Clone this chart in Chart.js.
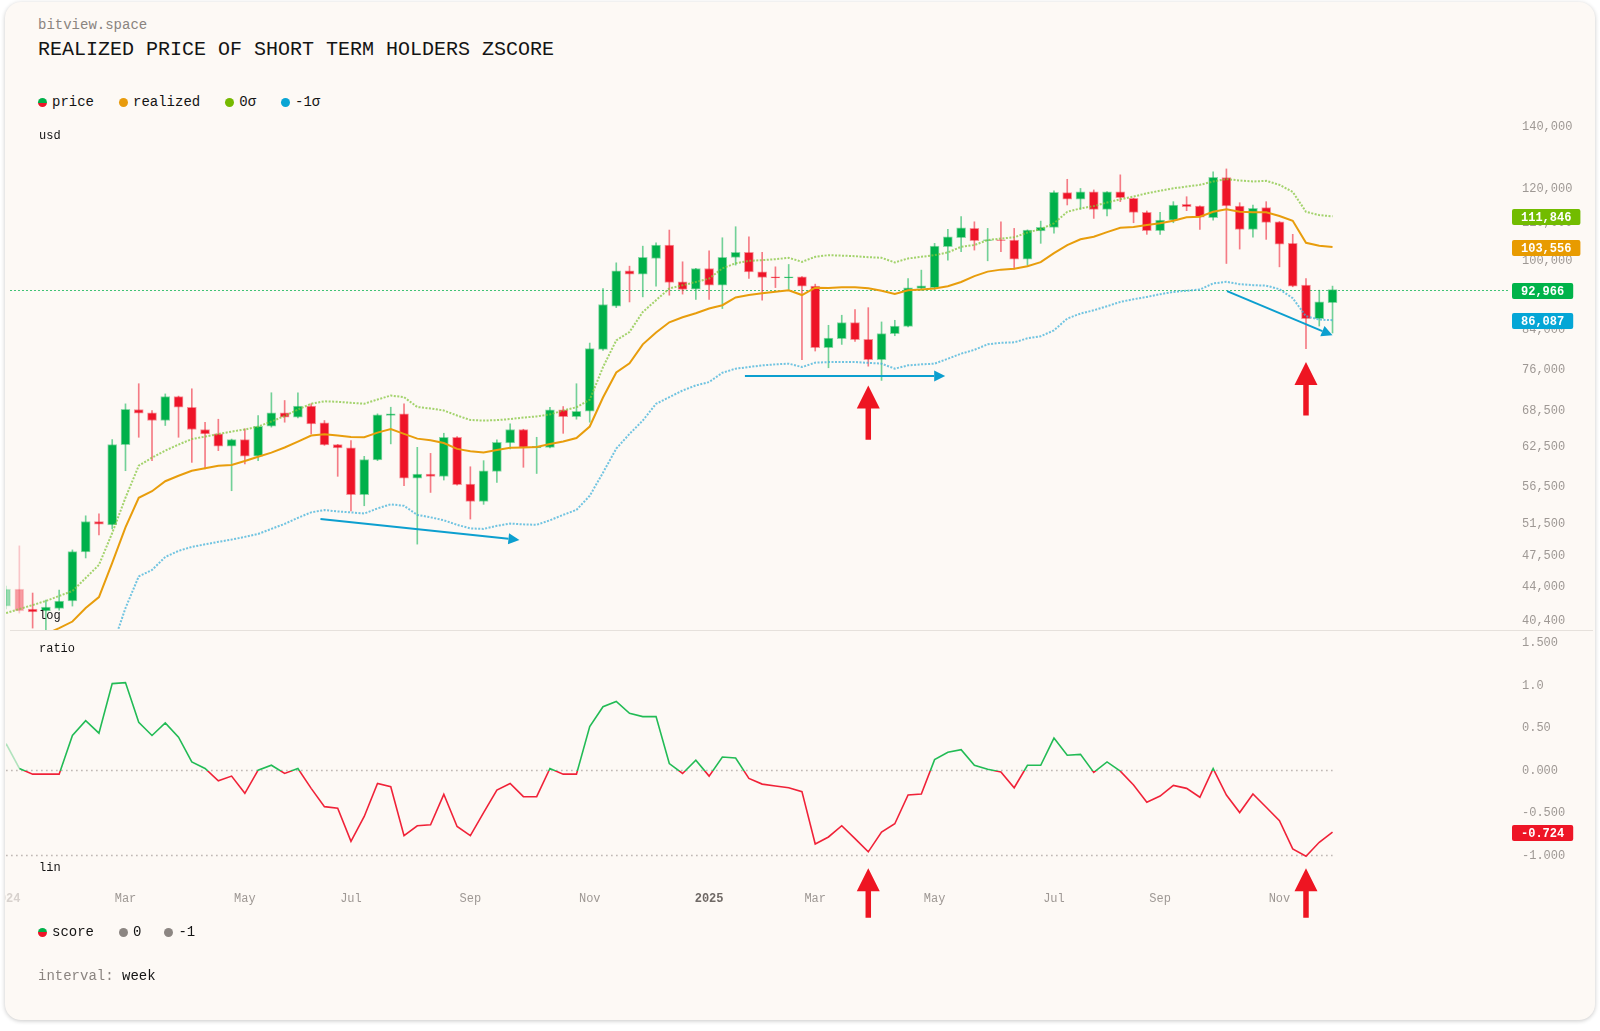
<!DOCTYPE html>
<html>
<head>
<meta charset="utf-8">
<script src="https://cdn.jsdelivr.net/npm/chart.js@4.4.1/dist/chart.umd.min.js"></script>
<style>
  html, body { margin: 0; padding: 0; width: 1600px; height: 1031px; background: #ffffff; overflow: hidden;
    font-family: "Liberation Mono", "DejaVu Sans Mono", monospace; }
  #card { position: absolute; left: 5px; top: 2px; width: 1590px; height: 1018px; background: #fdf9f5;
    border-radius: 16px; box-shadow: 0 1px 4px rgba(0,0,0,0.22); overflow: hidden; }
  .t { position: absolute; white-space: nowrap; color: #141414; }
  canvas { position: absolute; }
  .legend { position: absolute; display: flex; align-items: center; font-size: 14px; line-height: 16px; color: #141414; }
  .legend .item { display: flex; align-items: center; margin-right: 25px; }
  .legend .dot { width: 9px; height: 9px; border-radius: 50%; margin-right: 5px; }
  .split { background: linear-gradient(#00b04a 50%, #ee1428 50%); }
</style>
</head>
<body>
<div id="card">
  <div class="t" style="left:33px; top:15px; font-size:14px; line-height:16px; color:#8a8480;">bitview.space</div>
  <div class="t" style="left:33px; top:36px; font-size:20px; line-height:24px;">REALIZED PRICE OF SHORT TERM HOLDERS ZSCORE</div>

  <div class="legend" style="left:33px; top:92px;">
    <div class="item"><span class="dot split"></span>price</div>
    <div class="item"><span class="dot" style="background:#e89b0c"></span>realized</div>
    <div class="item"><span class="dot" style="background:#76b900"></span>0σ</div>
    <div class="item"><span class="dot" style="background:#0aa5d4"></span>-1σ</div>
  </div>

  <canvas id="priceChart" width="1590" height="513" style="left:0; top:116px;"></canvas>
  <div style="position:absolute; left:5px; top:628px; width:1583px; height:1px; background:#e6e1dc;"></div>
  <canvas id="ratioChart" width="1590" height="300" style="left:0; top:629px;"></canvas>

  <div class="t" style="left:34px; top:127px; font-size:12px; line-height:14px;">usd</div>
  <div class="t" style="left:34px; top:607px; font-size:12px; line-height:14px;">log</div>
  <div class="t" style="left:34px; top:640px; font-size:12px; line-height:14px;">ratio</div>
  <div class="t" style="left:34px; top:859px; font-size:12px; line-height:14px;">lin</div>

  <div class="legend" style="left:33px; top:922px;">
    <div class="item"><span class="dot split"></span>score</div>
    <div class="item" style="margin-right:23px;"><span class="dot" style="background:#8c8682"></span>0</div>
    <div class="item"><span class="dot" style="background:#8c8682"></span>-1</div>
  </div>
  <div class="t" style="left:33px; top:966px; font-size:14px; line-height:16px; color:#8a8480;">interval: <span style="color:#141414">week</span></div>
</div>

<script>
// weekly candles, week 0 = first week of Jan 2024
const priceOpen = [41880,43720,41570,41360,41640,42420,48010,51830,51400,62920,
  68730,68170,66850,71010,69120,65360,64640,62650,63720,61090,
  65900,68170,67410,69310,66460,62920,62400,55450,60540,67710,
  67990,57830,58420,58070,64090,56970,54520,58810,63200,65360,
  62400,62490,68680,67520,68440,79980,89180,97500,96690,100590,
  104040,94820,93080,98080,94050,100840,102130,97250,96050,95740,
  96050,93810,80330,82160,85580,82030,77940,83230,84760,93270,
  93420,103610,106000,108500,105230,105440,105360,100410,107780,108770,
  118730,116770,119000,113850,119000,117050,112990,107860,110800,115300,
  114810,111490,123330,114810,108240,114320,110340,104470,94050,86440,
  90000];
const priceHigh = [44050,48740,43280,42530,43610,48250,52580,52850,63720,69720,
  73350,68560,71490,71100,72420,66560,67070,63800,65460,67700,
  71700,70310,71700,69740,66850,62950,63560,61080,67990,69130,
  69740,62490,61540,64740,64200,59500,60420,63680,66290,65400,
  64090,69130,69250,73350,81270,93250,99480,98650,103750,104650,
  108050,99740,98100,102560,105970,108960,106240,102130,98480,99070,
  96100,94280,84990,87170,88440,88850,85710,86070,95630,97670,
  104480,108250,111780,110320,108500,110320,108500,108100,110510,119250,
  122800,120000,119550,119050,124180,117100,113370,112990,116060,117520,
  114850,125150,126050,115750,115100,116060,110400,106890,95630,92850,
  93810];
const priceLow = [41570,41150,39620,38600,41460,41880,47280,50110,50880,58910,
  64090,60420,66020,64090,60160,59170,61970,56010,59910,60420,
  65750,66570,67310,64640,62800,58080,53240,53930,60420,63030,
  56730,48960,55770,57540,56800,52150,54120,57200,62240,59420,
  58500,62400,64730,67080,66570,79780,88860,90140,91300,93800,
  91690,91940,90690,90690,88650,98910,95630,90530,93460,93020,
  77950,79650,76360,80990,81580,76670,73960,82780,84620,92850,
  92850,100160,102300,102730,99990,102300,97910,98870,104490,107180,
  115100,113850,111270,111940,116080,110060,106890,106890,110060,113450,
  108240,110800,99320,102990,106150,105540,98480,93650,80130,84830,
  83350];
const priceClose = [43720,41360,41260,41780,42420,48050,51830,51490,62920,68780,
  68100,66850,71010,69120,65360,64640,62650,63720,61090,65900,
  68170,67410,69310,66290,62870,62400,55450,60580,67810,67990,
  57830,58420,58070,64090,56870,54520,58910,63290,65360,62490,
  62650,68680,67520,68440,80120,89570,97500,96690,100840,104040,
  94680,93020,98080,94050,100840,102130,97250,95900,95740,96050,
  93810,80330,82300,85580,81970,77940,83230,84830,93420,93880,
  103780,106240,108660,105180,105440,105230,100410,108050,108770,118850,
  116770,119000,113850,119000,117250,112990,107860,110800,115100,114620,
  111580,123420,114810,108240,114140,110170,104300,93810,86440,90140,
  92966];
const realizedPrice = [36900,37570,38340,39020,39620,40280,41670,42840,46690,51080,
  55030,55940,57370,58170,58910,59270,59660,59770,60360,61010,
  61660,62460,63400,64360,64570,64360,64130,64090,64850,65420,
  64640,63870,63610,63170,62240,61880,61660,62050,62400,62450,
  62530,63000,63400,63960,65850,70850,75470,77230,81010,83480,
  85640,86720,87610,88650,89400,91170,91720,92120,92500,92850,
  91720,93450,93390,93540,93540,93300,92730,91960,92850,93010,
  93250,93800,94790,96200,97300,97790,98030,98640,99650,101950,
  104040,105550,106230,107500,108680,108870,109420,109900,110620,111580,
  111760,113160,113850,113160,113000,113000,111950,110620,104640,103850,
  103556];
const sigma0 = [41150,41570,41990,42420,42960,43500,44950,46460,50360,55030,
  59660,60880,61970,62920,63800,64200,64610,65020,65350,65850,
  66680,67620,68730,69740,70170,70080,69900,69740,70490,71200,
  70900,69170,68910,68560,67710,66940,66850,66920,67100,67360,
  67540,67880,68560,69130,70440,76480,81830,83560,87890,90530,
  93250,94000,94790,95600,98100,99380,99970,100160,100410,100740,
  99730,101000,101430,101300,101170,100920,100740,99580,100590,101000,
  101430,102130,103580,104040,105360,105760,106080,107370,108320,109900,
  113140,114110,114770,115800,116750,117570,118530,119310,120040,120560,
  121090,122110,122850,122420,122110,122320,121090,118950,113140,112190,
  111846];
const sigmaMinus1 = [null,null,null,null,null,null,null,34650,37760,41670,
  45130,45870,47400,48130,48620,48930,49240,49520,49860,50230,
  50870,51520,52310,53040,53350,53160,53040,52880,53570,54130,
  53920,52700,52380,51990,51400,50940,50870,51270,51560,51460,
  51400,51990,52710,53370,55300,58620,62280,64640,66850,69730,
  70900,72110,73040,73650,75410,76190,76500,76830,77020,77160,
  76500,77350,77470,77470,77470,77310,77160,76190,76830,77020,
  77160,78120,79120,79890,81010,81320,81420,82240,82660,83920,
  86440,87540,88270,89170,90150,90760,91290,91920,92450,92730,
  93010,94440,94830,94280,94040,93920,93080,91000,86950,86220,
  86087];
const zScore = [0.316,0.025,-0.042,-0.042,-0.042,0.413,0.588,0.44,1.023,1.035,
  0.568,0.413,0.561,0.393,0.102,0.025,-0.12,-0.065,-0.267,0.005,
  0.063,-0.034,0.025,-0.209,-0.424,-0.442,-0.832,-0.54,-0.151,-0.19,
  -0.765,-0.649,-0.637,-0.279,-0.657,-0.765,-0.494,-0.229,-0.151,-0.307,
  -0.307,0.025,-0.042,-0.042,0.518,0.751,0.813,0.673,0.635,0.635,
  0.083,-0.034,0.121,-0.065,0.16,0.148,-0.092,-0.159,-0.182,-0.202,
  -0.248,-0.863,-0.781,-0.649,-0.8,-0.956,-0.723,-0.625,-0.287,-0.275,
  0.129,0.215,0.246,0.063,0.016,-0.015,-0.202,0.063,0.063,0.382,
  0.18,0.191,-0.022,0.102,-0.007,-0.17,-0.372,-0.299,-0.174,-0.209,
  -0.314,0.024,-0.287,-0.494,-0.275,-0.431,-0.59,-0.921,-1.007,-0.843,
  -0.724];
const zeroLevel = 0;
const minusOneLevel = -1;

const monthTickWeeks = [0, 9, 18, 26, 35, 44, 53, 61, 70, 79, 87, 96];
const monthTickLabels = ['2024', 'Mar', 'May', 'Jul', 'Sep', 'Nov', '2025', 'Mar', 'May', 'Jul', 'Sep', 'Nov'];
const priceTicks = [140000, 120000, 110000, 100000, 84000, 76000, 68500, 62500, 56500, 51500, 47500, 44000, 40400];
const ratioTicks = [1.5, 1, 0.5, 0, -0.5, -1];
const ratioTickLabels = ['1.500', '1.0', '0.50', '0.000', '-0.500', '-1.000'];

// annotations, in data space (week index, value)
const blueArrows = [
  { fromWeek: 23.7, fromValue: 52150, toWeek: 38.7, toValue: 49480 },
  { fromWeek: 55.7, fromValue: 74770, toWeek: 70.8, toValue: 74770 },
  { fromWeek: 92.05, fromValue: 92620, toWeek: 100, toValue: 82870 }
];
const redArrowsPrice = [
  { week: 65, tip: 73040, tail: 63700 },
  { week: 98, tip: 77460, tail: 67700 }
];
const redArrowsRatio = [
  { week: 65, tip: -1.149, tail: -1.731 },
  { week: 98, tip: -1.149, tail: -1.731 }
];

const FONT = '"Liberation Mono", "DejaVu Sans Mono", monospace';
const X_MIN = -0.0075, X_MAX = 113.38;
const AXIS_W = 85;
const GREEN = [0, 176, 74], RED = [238, 20, 40];
const Z_GREEN = '#22bb55', Z_RED = '#f02238';
const rgba = (c, a) => `rgba(${c[0]},${c[1]},${c[2]},${a})`;

function candleColor(i, alpha) {
  if (i === undefined) return rgba(GREEN, alpha);
  const c = priceClose[i] >= priceOpen[i] ? GREEN : RED;
  return rgba(c, i < 2 ? alpha * 0.4 : alpha);
}

function valueTag(chart, value, text, color) {
  const { ctx, chartArea: a, scales: { y } } = chart;
  const py = Math.round(y.getPixelForValue(value)) + 1;
  ctx.save();
  ctx.font = 'bold 12px ' + FONT;
  const w = ctx.measureText(text).width + 18;
  ctx.fillStyle = color;
  ctx.beginPath();
  ctx.roundRect(a.right + 2, py - 8, w, 16, 2);
  ctx.fill();
  ctx.fillStyle = '#ffffff';
  ctx.textAlign = 'left';
  ctx.textBaseline = 'middle';
  ctx.fillText(text, a.right + 11, py + 1);
  ctx.restore();
}

function blockArrow(ctx, x, yTip, yTail) {
  const headH = 23, headW = 23, shaftW = 5.5;
  ctx.save();
  ctx.fillStyle = '#ee1522';
  ctx.beginPath();
  ctx.moveTo(x, yTip);
  ctx.lineTo(x + headW / 2, yTip + headH);
  ctx.lineTo(x + shaftW / 2, yTip + headH);
  ctx.lineTo(x + shaftW / 2, yTail);
  ctx.lineTo(x - shaftW / 2, yTail);
  ctx.lineTo(x - shaftW / 2, yTip + headH);
  ctx.lineTo(x - headW / 2, yTip + headH);
  ctx.closePath();
  ctx.fill();
  ctx.restore();
}

function lineArrow(ctx, x1, y1, x2, y2) {
  const ang = Math.atan2(y2 - y1, x2 - x1);
  const head = 11, half = 5.5;
  const bx = x2 - head * Math.cos(ang), by = y2 - head * Math.sin(ang);
  ctx.save();
  ctx.strokeStyle = '#0c9fcf';
  ctx.fillStyle = '#0c9fcf';
  ctx.lineWidth = 2;
  ctx.beginPath();
  ctx.moveTo(x1, y1);
  ctx.lineTo(bx, by);
  ctx.stroke();
  ctx.beginPath();
  ctx.moveTo(x2, y2);
  ctx.lineTo(bx - half * Math.sin(ang), by + half * Math.cos(ang));
  ctx.lineTo(bx + half * Math.sin(ang), by - half * Math.cos(ang));
  ctx.closePath();
  ctx.fill();
  ctx.restore();
}

const priceOverlay = {
  id: 'priceOverlay',
  beforeDatasetsDraw(chart) {
    const { ctx, chartArea: a, scales: { y } } = chart;
    const py = Math.round(y.getPixelForValue(priceClose[priceClose.length - 1])) + 0.5;
    ctx.save();
    ctx.strokeStyle = 'rgba(0,176,74,0.75)';
    ctx.lineWidth = 1;
    ctx.setLineDash([2, 2]);
    ctx.beginPath();
    ctx.moveTo(a.left + 4, py);
    ctx.lineTo(a.right, py);
    ctx.stroke();
    ctx.restore();
  },
  afterDraw(chart) {
    const { ctx, scales: { x, y } } = chart;
    blueArrows.forEach(b => lineArrow(ctx, x.getPixelForValue(b.fromWeek), y.getPixelForValue(b.fromValue),
      x.getPixelForValue(b.toWeek), y.getPixelForValue(b.toValue)));
    redArrowsPrice.forEach(r => blockArrow(ctx, x.getPixelForValue(r.week), y.getPixelForValue(r.tip), y.getPixelForValue(r.tail)));
    const fmt = v => v.toLocaleString('en-US');
    const last = priceClose.length - 1;
    valueTag(chart, sigma0[last], fmt(sigma0[last]), '#72bc00');
    valueTag(chart, realizedPrice[last], fmt(realizedPrice[last]), '#e89b00');
    valueTag(chart, priceClose[last], fmt(priceClose[last]), '#00b34a');
    valueTag(chart, sigmaMinus1[last], fmt(sigmaMinus1[last]), '#05a6d6');
  }
};

const ratioOverlay = {
  id: 'ratioOverlay',
  afterDraw(chart) {
    const { ctx, scales: { x, y } } = chart;
    redArrowsRatio.forEach(r => blockArrow(ctx, x.getPixelForValue(r.week), y.getPixelForValue(r.tip), y.getPixelForValue(r.tail)));
    const v = zScore[zScore.length - 1];
    valueTag(chart, v, v.toFixed(3), '#ee1526');
  }
};

const points = arr => arr.map((v, i) => ({ x: i, y: v }));

new Chart(document.getElementById('priceChart'), {
  type: 'bar',
  data: {
    datasets: [
      { type: 'line', data: points(realizedPrice), borderColor: '#e89d0c', borderWidth: 2,
        pointRadius: 0, tension: 0, order: 0 },
      { type: 'line', data: points(sigma0), borderColor: 'rgba(132,198,62,0.75)', borderWidth: 2,
        borderDash: [2, 1.5], pointRadius: 0, order: 0 },
      { type: 'line', data: points(sigmaMinus1), borderColor: 'rgba(64,178,218,0.75)', borderWidth: 2,
        borderDash: [2, 1.5], pointRadius: 0, spanGaps: false, order: 0 },
      { data: priceOpen.map((o, i) => ({ x: i, y: [o, priceClose[i]] })),
        backgroundColor: c => candleColor(c.dataIndex, 1),
        borderColor: c => candleColor(c.dataIndex, 0.45),
        borderWidth: 1, borderSkipped: false, barThickness: 9, grouped: false, order: 1 },
      { data: priceLow.map((l, i) => ({ x: i, y: [l, priceHigh[i]] })),
        backgroundColor: c => candleColor(c.dataIndex, 0.55),
        borderWidth: 0, barThickness: 1, grouped: false, order: 2 }
    ]
  },
  options: {
    responsive: false, animation: false, devicePixelRatio: 1,
    layout: { padding: { left: 1, top: 2, right: 0, bottom: 0 } },
    plugins: { legend: { display: false }, tooltip: { enabled: false } },
    scales: {
      x: { type: 'linear', min: X_MIN, max: X_MAX, offset: false, display: false },
      y: {
        type: 'logarithmic', position: 'right', min: 39330, max: 142590,
        grid: { display: false, drawTicks: false }, border: { display: false },
        afterBuildTicks: s => { s.ticks = priceTicks.map(v => ({ value: v })); },
        afterFit: s => { s.width = AXIS_W; s.paddingTop = 0; s.paddingBottom = 0; },
        ticks: { padding: 12, autoSkip: false, color: '#9e9894', font: { family: FONT, size: 12 },
          callback: v => Number(v).toLocaleString('en-US') }
      }
    }
  },
  plugins: [priceOverlay]
});

function zLineColor(context) {
  const chart = context.chart;
  const a = chart.chartArea;
  if (!a) return Z_GREEN;
  const y0 = chart.scales.y.getPixelForValue(zeroLevel);
  const s = Math.min(1, Math.max(0, (y0 - a.top) / (a.bottom - a.top)));
  const g = chart.ctx.createLinearGradient(0, a.top, 0, a.bottom);
  g.addColorStop(0, Z_GREEN); g.addColorStop(s, Z_GREEN);
  g.addColorStop(s, Z_RED); g.addColorStop(1, Z_RED);
  return g;
}

new Chart(document.getElementById('ratioChart'), {
  type: 'line',
  data: {
    datasets: [
      { data: points(zScore), borderColor: zLineColor, borderWidth: 1.6, pointRadius: 0, tension: 0,
        segment: { borderColor: c => c.p0DataIndex === 0 ? 'rgba(34,187,85,0.35)' : undefined }, order: 0 },
      { data: zScore.map((_, i) => ({ x: i, y: zeroLevel })), borderColor: 'rgba(140,132,128,0.6)',
        borderWidth: 1.5, borderDash: [1.5, 3.5], pointRadius: 0, order: 1 },
      { data: zScore.map((_, i) => ({ x: i, y: minusOneLevel })), borderColor: 'rgba(140,132,128,0.6)',
        borderWidth: 1.5, borderDash: [1.5, 3.5], pointRadius: 0, order: 1 }
    ]
  },
  options: {
    responsive: false, animation: false, devicePixelRatio: 1,
    layout: { padding: { left: 1, top: 4, right: 0, bottom: 0 } },
    plugins: { legend: { display: false }, tooltip: { enabled: false } },
    scales: {
      x: {
        type: 'linear', min: X_MIN, max: X_MAX, offset: false, position: 'bottom',
        grid: { display: false, drawTicks: false }, border: { display: false },
        afterBuildTicks: s => { s.ticks = monthTickWeeks.map(v => ({ value: v })); },
        afterFit: s => { s.height = 51; s.paddingLeft = 0; s.paddingRight = 0; },
        ticks: {
          padding: 12, autoSkip: false, maxRotation: 0,
          callback: (v, i) => monthTickLabels[i],
          color: c => c.index === 0 ? '#d8d2ce' : (/^\d{4}$/.test(monthTickLabels[c.index]) ? '#6f6965' : '#9e9894'),
          font: c => ({ family: FONT, size: 12, weight: /^\d{4}$/.test(monthTickLabels[c.index]) ? 'bold' : 'normal' })
        }
      },
      y: {
        type: 'linear', position: 'right', min: -1.287, max: 1.595,
        grid: { display: false, drawTicks: false }, border: { display: false },
        afterBuildTicks: s => { s.ticks = ratioTicks.map(v => ({ value: v })); },
        afterFit: s => { s.width = AXIS_W; s.paddingTop = 0; s.paddingBottom = 0; },
        ticks: { padding: 12, autoSkip: false, color: '#9e9894', font: { family: FONT, size: 12 },
          callback: (v, i) => ratioTickLabels[i] }
      }
    }
  },
  plugins: [ratioOverlay]
});
</script>
</body>
</html>
